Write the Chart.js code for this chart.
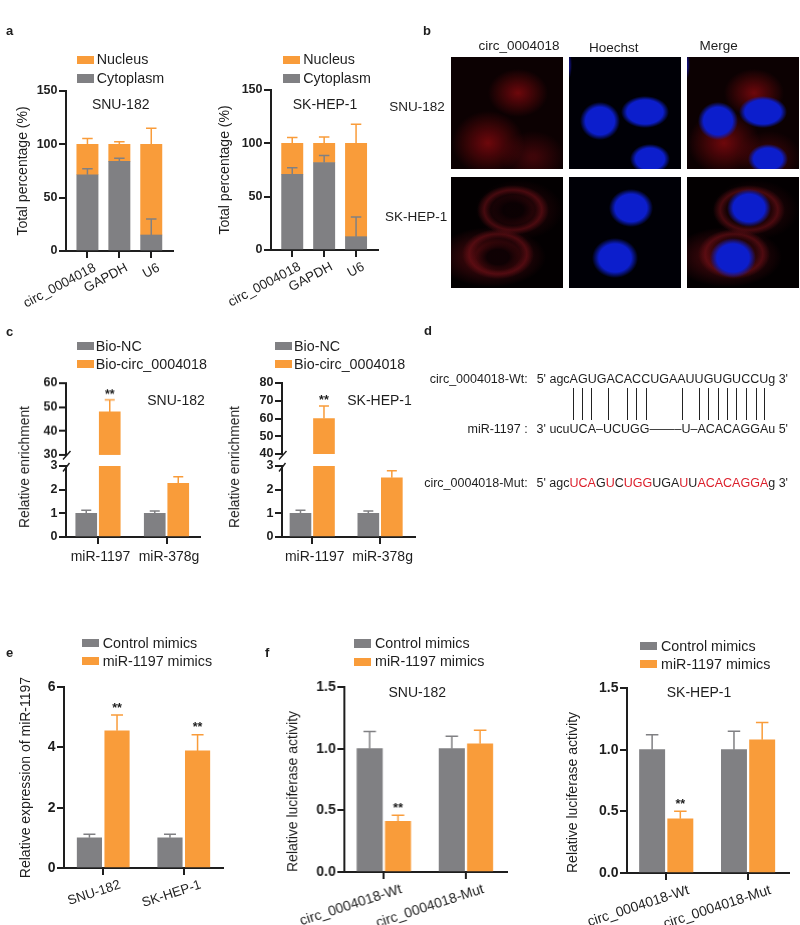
<!DOCTYPE html>
<html><head><meta charset="utf-8">
<script src="https://cdn.jsdelivr.net/npm/chart.js@4/dist/chart.umd.js"></script>
<style>
html,body{margin:0;padding:0;background:#fff}
#root{position:relative;width:800px;height:925px;overflow:hidden;font-family:"Liberation Sans",Arial,sans-serif;color:#1e1e1e;filter:blur(.35px)}
#root canvas{position:absolute}
.t{position:absolute;white-space:nowrap;line-height:1}
.b{position:absolute}
</style></head><body><div id="root"></div>
<script>
// ---- data ----
const fractionCategories=['circ_0004018','GAPDH','U6'];
const snuCytoplasm=[71.5,84,15];
const snuNucleus=[28.5,16,85];
const snuCytoplasmErr=[77,87,30];
const snuNucleusErr=[105.5,102.5,115];
const skCytoplasm=[71,82,12.5];
const skNucleus=[29,18,87.5];
const skCytoplasmErr=[77,88.5,31];
const skNucleusErr=[105.5,106,118];

const pulldownCategories=['miR-1197','miR-378g'];
const snuBioNC=[1,1];
const snuBioNCErr=[1.13,1.1];
const snuBioCirc=[48,2.27];
const snuBioCircErr=[53,2.55];
const skBioNC=[1,1];
const skBioNCErr=[1.13,1.1];
const skBioCirc=[60,2.5];
const skBioCircErr=[67,2.8];

const mimicCategories=['SNU-182','SK-HEP-1'];
const ctrlExpr=[1,1];
const ctrlExprErr=[1.12,1.12];
const mimicExpr=[4.55,3.88];
const mimicExprErr=[5.07,4.42];

const lucCategories=['circ_0004018-Wt','circ_0004018-Mut'];
const snuLucCtrl=[1,1];
const snuLucCtrlErr=[1.14,1.1];
const snuLucMimic=[0.41,1.04];
const snuLucMimicErr=[0.46,1.15];
const skLucCtrl=[1,1];
const skLucCtrlErr=[1.12,1.15];
const skLucMimic=[0.44,1.08];
const skLucMimicErr=[0.5,1.22];

// ---- style ----
const GREY='#808083', ORANGE='#f99c3a', INK='#1e1e1e', FONT='"Liberation Sans", Arial, sans-serif';
const root=document.getElementById('root');

function txt(s,x,y,o={}){
  const d=document.createElement('div');d.className='t';
  if(o.html)d.innerHTML=s;else d.textContent=s;
  const ax={left:'0',center:'-50%',right:'-100%'}[o.align||'left'];
  d.style.cssText+=`left:${x}px;top:${y}px;font-size:${o.size||14}px;font-weight:${o.weight||'normal'};transform:translate(${ax},-50%)${o.rot?` rotate(${o.rot}deg)`:''};`;
  root.appendChild(d);return d;
}
function box(x,y,w,h,c){const d=document.createElement('div');d.className='b';d.style.cssText=`left:${x}px;top:${y}px;width:${w}px;height:${h}px;background:${c}`;root.appendChild(d);return d;}
function legend(items,sx,tx,rows){items.forEach((it,i)=>{box(sx,rows[i]-4.2,17,8.4,it[1]);txt(it[0],tx,rows[i]-0.5,{size:14.3});});}

const errorBars={id:'errorBars',afterDatasetsDraw(chart,_a,opts){
  const ctx=chart.ctx,y=chart.scales.y;
  ctx.save();ctx.lineWidth=1.5;
  chart.data.datasets.forEach((ds,di)=>{
    chart.getDatasetMeta(di).data.forEach((bar,i)=>{
      const v=ds.errTop[i];
      if(v>y.max||v<y.min)return;
      const top=y.getPixelForValue(v);
      ctx.strokeStyle=ds.backgroundColor;
      ctx.beginPath();ctx.moveTo(bar.x,bar.y);ctx.lineTo(bar.x,top);
      ctx.moveTo(bar.x-opts.cap/2,top);ctx.lineTo(bar.x+opts.cap/2,top);ctx.stroke();
      if(ds.stars&&ds.stars[i]){
        ctx.fillStyle=INK;ctx.font='bold 12.5px '+FONT;ctx.textAlign='center';ctx.textBaseline='middle';
        ctx.fillText('**',bar.x,top-opts.starGap);
      }
    });
  });
  ctx.restore();
}};
const breakMark={id:'breakMark',afterDraw(chart){
  const ctx=chart.ctx,a=chart.chartArea;
  ctx.save();ctx.strokeStyle=INK;ctx.lineWidth=1.4;ctx.beginPath();
  ctx.moveTo(a.left-3,a.top+5.5);ctx.lineTo(a.left+3.5,a.top-3);
  ctx.moveTo(a.left-3,a.top-6.5);ctx.lineTo(a.left+4.5,a.top-15);
  ctx.stroke();ctx.restore();
}};

function makeChart(p){
  const lp=100, cx=p.l-lp, cy=p.t-16, w=p.r-cx+8, h=(p.b-cy)+(p.below||0);
  const c=document.createElement('canvas');c.width=w;c.height=h;
  c.style.cssText=`left:${cx}px;top:${cy}px;width:${w}px;height:${h}px`;
  root.appendChild(c);
  const xmin=(p.l-p.c0)/p.band, xmax=(p.r-p.c0)/p.band;
  const stacked=!!p.stacked;
  const datasets=p.series.map(s=>({
    data:s.data.map((v,i)=>({x:i,y:v})),
    backgroundColor:s.color,errTop:s.err,stars:s.stars,
    barThickness:p.chunk,maxBarThickness:p.barW,
    grouped:!stacked
  }));
  const yTitle=p.yTitle?{display:true,text:p.yTitle,color:INK,align:p.titleAlign||'center',
    font:{family:FONT,size:14},padding:{top:lp-p.titleDx-8.4,bottom:0}}:{display:false};
  return new Chart(c,{
    type:'bar',
    data:{datasets},
    plugins:[errorBars].concat(p.brk?[breakMark]:[]),
    options:{
      responsive:false,animation:false,
      layout:{padding:{left:0,top:p.t-cy,right:w-(p.r-cx),bottom:p.noX?p.below:0}},
      plugins:{legend:{display:false},tooltip:{enabled:false},errorBars:{cap:p.cap,starGap:p.starGap||7}},
      scales:{
        x:{type:'linear',min:xmin,max:xmax,offset:false,stacked,display:!p.noX,
          grid:{offset:false,drawOnChartArea:false,color:INK,lineWidth:2,tickLength:7,tickWidth:2,tickColor:INK},
          border:{display:true,color:INK,width:2},
          afterFit:s=>{s.height=p.noX?0:h-(p.b-cy);},
          ticks:{stepSize:1,includeBounds:false,autoSkip:false,minRotation:p.rot||0,maxRotation:p.rot||0,
            labelOffset:p.labelOffset||0,padding:p.xPad||2,color:INK,font:{family:FONT,size:p.xSize||14},
            callback:v=>p.cats[v]}},
        y:{min:p.ymin,max:p.ymax,stacked,
          grid:{drawOnChartArea:false,color:INK,lineWidth:2,tickLength:7,tickWidth:2,tickColor:INK},
          border:{display:true,color:INK,width:2},
          afterFit:s=>{s.width=lp;},
          title:yTitle,
          ticks:{stepSize:p.step,autoSkip:false,padding:1.5,color:INK,font:{family:FONT,size:p.tickSize||12.5,weight:'bold'},
            callback:v=>p.fmt?v.toFixed(1):String(v)}}
      }
    }
  });
}

// ---- panel a ----
[[{l:66,r:173.3,t:91,b:251,c0:87.5,yTitle:'Total percentage (%)',titleDx:43.3},snuCytoplasm,snuNucleus,snuCytoplasmErr,snuNucleusErr],
 [{l:270.7,r:378,t:90.3,b:250.3,c0:292,yTitle:'Total percentage (%)',titleDx:45.7},skCytoplasm,skNucleus,skCytoplasmErr,skNucleusErr]
].forEach(([g,cy,nu,ce,ne])=>makeChart(Object.assign(g,{below:72,band:32,chunk:21.3,barW:21.3,cap:10.5,stacked:true,rot:28,labelOffset:7.5,xSize:13.3,
  cats:fractionCategories,ymin:0,ymax:150,step:50,
  series:[{data:cy,err:ce,color:GREY},{data:nu,err:ne,color:ORANGE}]})));

// ---- panel c (broken axis: upper and lower segment share the same arrays) ----
function pulldown(l,r,c0,band,upT,upB,upMin,upMax,upStep,nc,ncE,bc,bcE){
  const common={l,r,c0,band,chunk:23.5,barW:21,cap:10,cats:pulldownCategories,
    series:[{data:nc,err:ncE,color:GREY},{data:bc,err:bcE,color:ORANGE,stars:[true,false]}]};
  makeChart(Object.assign({},common,{t:upT,b:upB,ymin:upMin,ymax:upMax,step:upStep,noX:true,starGap:5.5,below:10}));
  makeChart(Object.assign({},common,{t:466,b:537,ymin:0,ymax:3,step:1,below:34,brk:true,labelOffset:2.5,xPad:5}));
}
pulldown(66,200,98,68.5,383.3,455,30,60,10,snuBioNC,snuBioNCErr,snuBioCirc,snuBioCircErr);
pulldown(281.7,415,312,68,383.3,454.5,40,80,10,skBioNC,skBioNCErr,skBioCirc,skBioCircErr);

// ---- panel e ----
makeChart({l:64,r:223.3,t:686.7,b:867.7,c0:103.3,band:80.7,chunk:27.6,barW:24.5,cap:12,below:50,rot:18,labelOffset:17,xSize:13.3,
  cats:mimicCategories,ymin:0,ymax:6,step:2,tickSize:14,yTitle:'Relative expression of miR-1197',titleDx:38,starGap:7,
  series:[{data:ctrlExpr,err:ctrlExprErr,color:GREY},{data:mimicExpr,err:mimicExprErr,color:ORANGE,stars:[true,true]}]});

// ---- panel f ----
makeChart({l:344.3,r:506.7,t:687.3,b:872.3,c0:383.7,band:82,chunk:28.2,barW:25.3,cap:12.5,below:53,rot:18,labelOffset:17.5,
  cats:lucCategories,ymin:0,ymax:1.5,step:.5,fmt:true,tickSize:14,yTitle:'Relative luciferase activity',titleAlign:'start',titleDx:51,starGap:7,
  series:[{data:snuLucCtrl,err:snuLucCtrlErr,color:GREY},{data:snuLucMimic,err:snuLucMimicErr,color:ORANGE,stars:[true,false]}]});
makeChart({l:626.7,r:789,t:688.3,b:873.3,c0:666,band:82,chunk:28.2,barW:25.3,cap:12.5,below:52,rot:18,labelOffset:22.5,
  cats:lucCategories,ymin:0,ymax:1.5,step:.5,fmt:true,tickSize:14,yTitle:'Relative luciferase activity',titleAlign:'start',titleDx:53.4,starGap:7,
  series:[{data:skLucCtrl,err:skLucCtrlErr,color:GREY},{data:skLucMimic,err:skLucMimicErr,color:ORANGE,stars:[true,false]}]});

// ---- chart annotations ----
[['a',6,29.5],['b',423,29.5],['c',6,331],['d',424,330],['e',6,652],['f',265,652]].forEach(l=>txt(l[0],l[1],l[2],{size:13,weight:'bold'}));
legend([['Nucleus',ORANGE],['Cytoplasm',GREY]],76.7,96.7,[59.7,78.5]);
legend([['Nucleus',ORANGE],['Cytoplasm',GREY]],283.3,303.3,[59.7,78.5]);
txt('SNU-182',120.7,104,{align:'center',size:14});
txt('SK-HEP-1',325,104,{align:'center',size:14});
legend([['Bio-NC',GREY],['Bio-circ_0004018',ORANGE]],76.7,95.7,[346,364]);
legend([['Bio-NC',GREY],['Bio-circ_0004018',ORANGE]],275,294,[346,364]);
txt('SNU-182',176,400,{align:'center',size:14});
txt('SK-HEP-1',379.5,400,{align:'center',size:14});
txt('Relative enrichment',24.5,466.5,{align:'center',size:13.8,rot:-90});
txt('Relative enrichment',235,466.5,{align:'center',size:13.8,rot:-90});
legend([['Control mimics',GREY],['miR-1197 mimics',ORANGE]],82.3,102.7,[643,661]);
legend([['Control mimics',GREY],['miR-1197 mimics',ORANGE]],354.3,375,[643.5,661.7]);
legend([['Control mimics',GREY],['miR-1197 mimics',ORANGE]],640.3,661,[646,664.2]);
txt('SNU-182',417.3,692,{align:'center',size:14});
txt('SK-HEP-1',699,692,{align:'center',size:14});

// ---- panel b: fluorescence micrographs ----
const blob=(x,y,rx,ry,c,s=40)=>`radial-gradient(ellipse ${rx}px ${ry}px at ${x}px ${y}px, ${c} 0%, ${c} ${s}%, transparent 100%)`;
const ring=(x,y,rx,ry,c)=>`radial-gradient(ellipse ${rx}px ${ry}px at ${x}px ${y}px, transparent 62%, ${c} 80%, transparent 100%)`;
const BLUE='#0c1ecc', HAZE='rgba(115,8,12,.95)', DIM='rgba(70,6,10,.85)', RINGC='rgba(125,18,26,.5)', HOLE='rgba(6,0,2,.85)';
const row1Red=[blob(67,36,30,24,HAZE,0),blob(37,86,36,32,HAZE,0),blob(82,100,32,26,DIM,10)];
const row1Nuc=[blob(31,64,20,19,BLUE,72),blob(76,55,24,16,BLUE,75),blob(81,102,20,15,BLUE,72),blob(0,8,3,14,'rgba(20,20,160,.7)',30)];
const row2Red=[blob(47,80,22,15,HOLE,50),blob(62,33,20,14,HOLE,50),ring(62,33,36,25,RINGC),ring(47,77,36,25,RINGC),
  blob(40,80,55,30,'rgba(85,10,15,.75)',30),blob(68,33,44,30,'rgba(55,6,10,.65)',30)];
const row2Nuc=[blob(62,31,22,19,BLUE,72),blob(46,81,23,20,BLUE,70)];
const micro=[[row1Red,row1Nuc,[...row1Nuc,...row1Red]],[row2Red,row2Nuc,[...row2Nuc,...row2Red.slice(2)]]];
[451,569,686.7].forEach((x,ci)=>[57.3,176.7].forEach((y,ri)=>{
  const d=box(x,y,112.3,111.7,'#000');
  d.style.backgroundImage=micro[ri][ci].join(',');
  d.style.backgroundColor=ci===1?'#000006':(ri===0?'#0c0102':'#030001');
}));
txt('circ_0004018',519,45.7,{align:'center',size:13.5});
txt('Hoechst',613.7,48.3,{align:'center',size:13.5});
txt('Merge',718.7,45.7,{align:'center',size:13.5});
txt('SNU-182',389.3,107.3,{size:13.5});
txt('SK-HEP-1',385,216.7,{size:13.5});

// ---- panel d: sequences ----
const R=s=>`<span style="color:#dc1f2b">${s}</span>`;
txt('circ_0004018-Wt:',527.7,379.3,{align:'right',size:12.5});
txt("5' agcAGUGACACCUGAAUUGUGUCCUg 3'",788,379.3,{align:'right',size:12.5});
txt('miR-1197 :',527.7,429,{align:'right',size:12.5});
txt("3' ucuUCA–UCUGG——–U–ACACAGGAu 5'",788,429,{align:'right',size:12.5});
txt('circ_0004018-Mut:',527.7,482.7,{align:'right',size:12.5});
txt("5' agc"+R('UCA')+'G'+R('U')+'C'+R('UGG')+'UGA'+R('U')+'U'+R('ACACAGGA')+"g 3'",788,482.7,{align:'right',size:12.5,html:true});
const pairColumns=[458,486,513,565,621,649,677,786,837,865,893,921,949,977,1007,1033];
pairColumns.forEach(z=>box(Math.round(420+z/3),388.3,1.2,31.7,'#222'));
</script></body></html>
